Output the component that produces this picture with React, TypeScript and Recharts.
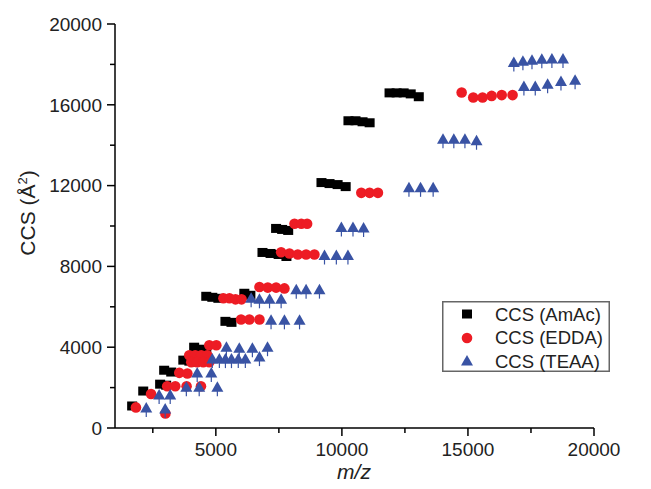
import React from "react";
import { Legend, Scatter, ScatterChart, XAxis, YAxis } from "recharts";

// m/z and CCS, one pair per marker
const amacMz = [
  1680, 2120, 2790, 3030, 2950, 3230, 3710, 3950, 4180, 4140, 4380, 4620, 4620, 4860, 5100, 6130, 6370,
  5380, 5620, 6850, 7170, 7490, 7800, 7390, 7630, 7870, 9190, 9510, 9830, 10150, 10260, 10540, 10820,
  11100, 11890, 12170, 12450, 12730, 13050,
];
const amacCcs = [
  1090, 1830, 2170, 2120, 2860, 2770, 3360, 3310, 3260, 4000, 3900, 3850, 6520, 6470, 6420, 6670, 6570,
  5280, 5230, 8690, 8640, 8590, 8490, 9880, 9830, 9780, 12150, 12100, 12050, 11950, 15210, 15210, 15160,
  15110, 16590, 16590, 16590, 16540, 16400,
];

const eddaMz = [
  1830, 2430, 3000, 3070, 3390, 3840, 4410, 3550, 3870, 3945, 4180, 4420, 4660, 4025, 4260, 4500, 4740,
  4740, 5020, 5300, 5540, 5780, 6020, 6730, 7060, 7390, 7720, 6000, 6330, 6730, 7590, 7920, 8250, 8580,
  8910, 8120, 8390, 8620, 10770, 11100, 11430, 14750, 15210, 15580, 15940, 16340, 16770,
];
const eddaCcs = [
  1020, 1680, 720, 2070, 2070, 2070, 2070, 2730, 2700, 3600, 3600, 3600, 3600, 3260, 3260, 3260, 3260,
  4100, 4100, 6420, 6420, 6370, 6370, 6980, 6950, 6950, 6910, 5370, 5370, 5370, 8700, 8640, 8590, 8590,
  8590, 10110, 10110, 10110, 11640, 11640, 11640, 16610, 16360, 16360, 16440, 16480, 16480,
];

const teaaMz = [
  2240, 2990, 2750, 3190, 3830, 4340, 5060, 4260, 4820, 4860, 5140, 5380, 5620, 5890, 6170, 6730, 5420,
  5930, 6450, 7050, 7190, 7720, 8320, 6400, 6730, 7130, 7590, 8190, 8580, 9110, 9310, 9780, 10240, 9980,
  10440, 10860, 12660, 13120, 13620, 14010, 14440, 14880, 15340, 17220, 17670, 18160, 18690, 19250, 16820,
  17180, 17540, 17930, 18330, 18770,
];
const teaaCcs = [
  990, 940, 1630, 1630, 2020, 2020, 2020, 2720, 2720, 3410, 3410, 3410, 3410, 3410, 3410, 3510, 4000,
  3950, 3950, 4000, 5330, 5330, 5330, 6420, 6370, 6370, 6370, 6850, 6850, 6850, 8540, 8540, 8540, 9930,
  9930, 9900, 11890, 11890, 11890, 14300, 14300, 14300, 14220, 16900, 16900, 17020, 17150, 17220, 18100,
  18150, 18200, 18250, 18270, 18270,
];

const xTicks = [2500, 5000, 7500, 10000, 12500, 15000, 17500, 20000];
const yTicks = [0, 2000, 4000, 6000, 8000, 10000, 12000, 14000, 16000, 18000, 20000];

const toPoints = (mz: number[], ccs: number[]) => mz.map((m, i) => ({ mz: m, ccs: ccs[i] }));

const BLUE = "#3953a4";
const RED = "#ed1c24";
const INK = "#222";
const FONT = "'Liberation Sans', Arial, sans-serif";

const Square = ({ cx, cy }: any) => <rect x={cx - 5} y={cy - 4.5} width={10} height={9} fill="#000" />;
const Dot = ({ cx, cy }: any) => <circle cx={cx} cy={cy} r={5.3} fill={RED} />;
const Tri = ({ cx, cy }: any) => (
  <g>
    <line x1={cx} x2={cx} y1={cy} y2={cy + 9} stroke={BLUE} strokeWidth={1.2} />
    <path d={`M${cx},${cy - 6}L${cx + 6},${cy + 4.5}L${cx - 6},${cy + 4.5}Z`} fill={BLUE} />
  </g>
);

const XTick = ({ x, y, payload }: any) => {
  const major = payload.value % 5000 === 0;
  return (
    <g>
      <line x1={x} x2={x} y1={y} y2={y + (major ? 8 : 5)} stroke="#000" strokeWidth={1.5} />
      {major && (
        <text x={x} y={y + 28} textAnchor="middle" fontSize={19} fontFamily={FONT} fill={INK}>
          {payload.value}
        </text>
      )}
    </g>
  );
};

const YTick = ({ x, y, payload }: any) => {
  const major = payload.value % 4000 === 0;
  return (
    <g>
      <line x1={x - (major ? 8 : 5)} x2={x} y1={y} y2={y} stroke="#000" strokeWidth={1.5} />
      {major && (
        <text x={x - 13} y={y} dy="0.36em" textAnchor="end" fontSize={19} fontFamily={FONT} fill={INK}>
          {payload.value}
        </text>
      )}
    </g>
  );
};

const YTitle = () => (
  <text x={35} y={213} transform="rotate(-90, 35, 213)" textAnchor="middle" fontSize={21} fontFamily={FONT} fill={INK}>
    CCS (Å<tspan dy={-8} fontSize={13}>2</tspan>
    <tspan dy={8}>)</tspan>
  </text>
);

const XTitle = () => (
  <text x={354} y={479} textAnchor="middle" fontSize={21} fontStyle="italic" fontFamily={FONT} fill={INK}>
    m/z
  </text>
);

const LegendBox = () => (
  <svg width={168} height={71} style={{ display: "block" }}>
    <rect x={0.75} y={0.75} width={166.5} height={69.5} fill="#fff" stroke="#666" strokeWidth={1.5} />
    <Square cx={25} cy={13} />
    <circle cx={25} cy={37} r={5.3} fill={RED} />
    <path d="M25,54L31,64.5L19,64.5Z" fill={BLUE} />
    {["CCS (AmAc)", "CCS (EDDA)", "CCS (TEAA)"].map((t, i) => (
      <text key={t} x={53} y={13 + i * 23.5} dy="0.36em" fontSize={18.5} fontFamily={FONT} fill={INK}>
        {t}
      </text>
    ))}
  </svg>
);

export default function App() {
  return (
    <div style={{ position: "absolute", left: 0, top: 0 }}>
      <ScatterChart width={651} height={489} margin={{ top: 24, right: 57, bottom: 0, left: 0 }}>
        <XAxis
          type="number"
          dataKey="mz"
          domain={[1000, 20000]}
          ticks={xTicks}
          height={61}
          tickSize={0}
          tickMargin={0}
          tickLine={false}
          tick={<XTick />}
          stroke="#000"
          strokeWidth={1.5}
          label={<XTitle />}
          allowDataOverflow
        />
        <YAxis
          type="number"
          dataKey="ccs"
          domain={[0, 20000]}
          ticks={yTicks}
          width={115}
          tickSize={0}
          tickMargin={0}
          tickLine={false}
          tick={<YTick />}
          stroke="#000"
          strokeWidth={1.5}
          label={<YTitle />}
          allowDataOverflow
        />
        <Legend
          layout="horizontal"
          verticalAlign="middle"
          align="center"
          wrapperStyle={{ left: 442, top: 301, width: 168, height: 71 }}
          content={() => <LegendBox />}
        />
        <Scatter name="CCS (AmAc)" data={toPoints(amacMz, amacCcs)} shape={<Square />} isAnimationActive={false} />
        <Scatter name="CCS (EDDA)" data={toPoints(eddaMz, eddaCcs)} shape={<Dot />} isAnimationActive={false} />
        <Scatter name="CCS (TEAA)" data={toPoints(teaaMz, teaaCcs)} shape={<Tri />} isAnimationActive={false} />
      </ScatterChart>
    </div>
  );
}
